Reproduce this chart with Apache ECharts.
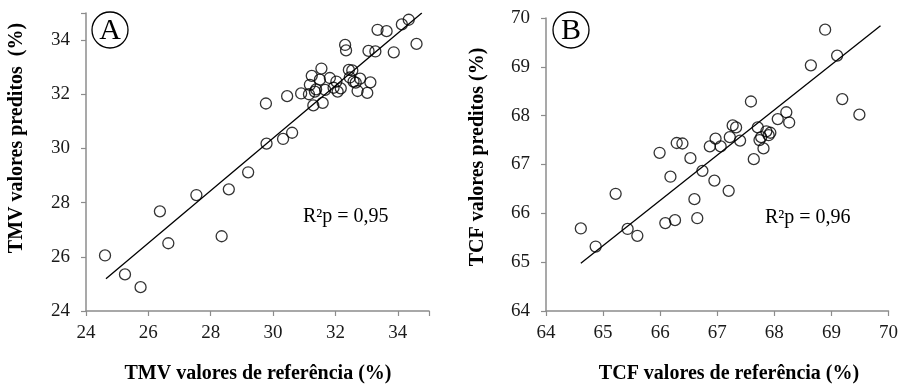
<!DOCTYPE html>
<html><head><meta charset="utf-8">
<script src="https://cdn.jsdelivr.net/npm/echarts@6/dist/echarts.min.js"></script>
<style>html,body{margin:0;padding:0;background:#fff}#c{width:901px;height:385px}</style>
</head><body><div id="c"></div>
<script>
// Panel A: TMV
const tmvRef = [24.61,25.25,25.75,26.37,26.64,27.54,28.35,28.58,29.20,29.79,30.32,30.61,29.77,30.45,30.90,31.15,31.29,31.59,31.18,31.24,31.55,31.38,31.50,31.67,31.82,31.94,32.03,32.07,32.17,32.31,32.34,32.43,32.54,32.46,32.58,32.65,32.79,32.71,33.02,33.12,33.06,33.28,33.35,33.64,33.87,34.13,34.35,34.60,31.34];
const tmvPred = [26.05,25.35,24.88,27.68,26.50,28.28,26.76,28.49,29.12,30.18,30.35,30.58,31.66,31.93,32.03,32.00,31.59,31.68,32.35,32.68,32.95,32.18,32.54,32.16,32.60,32.24,32.47,32.10,32.22,33.82,33.62,32.90,32.88,32.62,32.47,32.43,32.58,32.12,32.05,32.44,33.60,33.58,34.38,34.33,33.55,34.58,34.75,33.86,32.10];
const tmvLineX = [24.64, 34.77];
const tmvLineY = [25.19, 35.0];
// Panel B: TCF
const tcfRef = [64.61,64.87,65.22,65.43,65.60,66.09,66.26,66.18,65.99,66.29,66.39,66.53,66.74,66.60,66.65,66.95,67.20,66.87,66.97,67.06,67.22,67.27,67.33,67.40,67.59,67.64,67.71,67.74,67.77,67.81,67.86,67.90,67.93,68.06,68.21,68.26,68.64,68.89,69.10,69.19,69.49];
const tcfPred = [65.69,65.32,66.40,65.68,65.54,65.80,65.86,66.75,67.24,67.44,67.43,67.13,66.87,66.29,65.90,66.67,66.46,67.37,67.53,67.37,67.56,67.80,67.76,67.49,68.29,67.11,67.76,67.50,67.56,67.33,67.68,67.60,67.65,67.93,68.07,67.86,69.03,69.76,69.23,68.34,68.02];
const tcfLineX = [64.61, 69.86];
const tcfLineY = [64.98, 69.84];

const axisTicksA = [24,26,28,30,32,34];
const axisTicksB = [64,65,66,67,68,69,70];

const zip = (a,b) => a.map((v,i)=>[v,b[i]]);
const FONT = '"Liberation Serif","Times New Roman",serif';
const axCol = '#8c8c8c';

function axis(gi, min, max, interval, isX, ticks){
  return {
    type:'value', gridIndex:gi, min, max, interval,
    axisLine:{show:true, lineStyle:{color:axCol, width:1.5}},
    axisTick:{show:true, length:5, lineStyle:{color:axCol, width:1.2}},
    splitLine:{show:false},
    axisLabel:{fontFamily:FONT, fontSize:19, color:'#1a1a1a', margin: isX?13:16,
      formatter: v => ticks.includes(v) ? String(v) : ''}
  };
}

const scatterStyle = {color:'rgba(0,0,0,0)', borderColor:'#000', borderWidth:1.3};

const option = {
  animation:false,
  backgroundColor:'#fff',
  grid:[
    {left:86, top:13, width:343, height:298},
    {left:546, top:18, width:343, height:293}
  ],
  xAxis:[axis(0,24,35,2,true,axisTicksA), axis(1,64,70,1,true,axisTicksB)],
  yAxis:[axis(0,24,35,2,false,axisTicksA), axis(1,64,70,1,false,axisTicksB)],
  series:[
    {type:'line', xAxisIndex:0, yAxisIndex:0, data:zip(tmvLineX,tmvLineY), symbol:'none', lineStyle:{color:'#000', width:1.3}},
    {type:'scatter', xAxisIndex:0, yAxisIndex:0, data:zip(tmvRef,tmvPred), symbol:'circle', symbolSize:11, itemStyle:scatterStyle},
    {type:'line', xAxisIndex:1, yAxisIndex:1, data:zip(tcfLineX,tcfLineY), symbol:'none', lineStyle:{color:'#000', width:1.3}},
    {type:'scatter', xAxisIndex:1, yAxisIndex:1, data:zip(tcfRef,tcfPred), symbol:'circle', symbolSize:11, itemStyle:scatterStyle}
  ],
  graphic:[
    {type:'text', x:258, y:374, style:{text:'TMV valores de referência (%)', font:'bold 20px '+FONT, fill:'#000', textAlign:'center', textVerticalAlign:'middle'}},
    {type:'text', x:729, y:374, style:{text:'TCF valores de referência (%)', font:'bold 20px '+FONT, fill:'#000', textAlign:'center', textVerticalAlign:'middle'}},
    {type:'text', x:17, y:138, rotation:Math.PI/2, style:{text:'TMV valores preditos  (%)', font:'bold 20px '+FONT, fill:'#000', textAlign:'center', textVerticalAlign:'middle'}},
    {type:'text', x:478, y:157, rotation:Math.PI/2, style:{text:'TCF valores preditos (%)', font:'bold 20px '+FONT, fill:'#000', textAlign:'center', textVerticalAlign:'middle'}},
    {type:'text', x:303, y:217, style:{text:'R²p = 0,95', font:'20px '+FONT, fill:'#000', textAlign:'left', textVerticalAlign:'middle'}},
    {type:'text', x:765, y:218, style:{text:'R²p = 0,96', font:'20px '+FONT, fill:'#000', textAlign:'left', textVerticalAlign:'middle'}},
    {type:'circle', shape:{cx:110, cy:30, r:18}, style:{fill:'none', stroke:'#000', lineWidth:1.3}},
    {type:'text', x:110, y:31, style:{text:'A', font:'30px '+FONT, fill:'#000', textAlign:'center', textVerticalAlign:'middle'}},
    {type:'circle', shape:{cx:571, cy:30, r:18}, style:{fill:'none', stroke:'#000', lineWidth:1.3}},
    {type:'text', x:571, y:31, style:{text:'B', font:'30px '+FONT, fill:'#000', textAlign:'center', textVerticalAlign:'middle'}}
  ]
};
echarts.init(document.getElementById('c')).setOption(option);
</script></body></html>
